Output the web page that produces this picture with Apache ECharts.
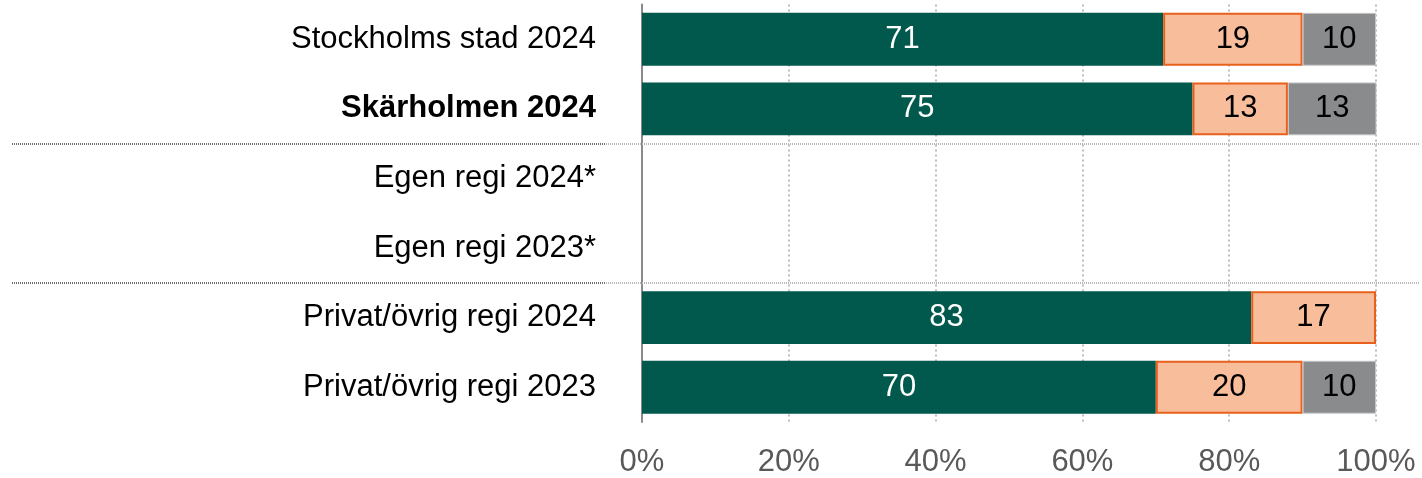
<!DOCTYPE html>
<html>
<head>
<meta charset="utf-8">
<script src="https://cdn.jsdelivr.net/npm/echarts@6/dist/echarts.min.js"></script>
<style>
  html, body { margin: 0; padding: 0; background: #ffffff; }
  #chart { width: 1422px; height: 478px; }
</style>
</head>
<body>
<div id="chart"></div>
<script>
// Row labels, top to bottom
const categories = [
  'Stockholms stad 2024',
  'Skärholmen 2024',
  'Egen regi 2024*',
  'Egen regi 2023*',
  'Privat/övrig regi 2024',
  'Privat/övrig regi 2023'
];
// Shares in percent per row (null = no data)
const greenValues = [71, 75, null, null, 83, 70];
const peachValues = [19, 13, null, null, 17, 20];
const greyValues  = [10, 13, null, null, null, 10];
// Value axis ticks
const tickValues = [0, 20, 40, 60, 80, 100];
// Rows after which a separator line is drawn
const separatorAfter = [1, 3];
const boldRow = 'Skärholmen 2024';

const FONT = '"Liberation Sans", Arial, sans-serif';

const chart = echarts.init(document.getElementById('chart'), null, { renderer: 'canvas' });

function segmentLabel(color) {
  return {
    show: true,
    position: 'inside',
    fontFamily: FONT,
    fontSize: 31,
    color: color,
    formatter: p => (p.value == null ? '' : String(p.value))
  };
}

const option = {
  animation: false,
  backgroundColor: '#ffffff',
  grid: { left: 642, right: 46, top: 4.5, bottom: 53.5, containLabel: false },
  xAxis: {
    type: 'value',
    min: tickValues[0],
    max: tickValues[tickValues.length - 1],
    interval: tickValues[1] - tickValues[0],
    axisLine: { show: false },
    axisTick: { show: false },
    axisLabel: {
      formatter: '{value}%',
      fontFamily: FONT,
      fontSize: 31,
      color: '#595959',
      margin: 25
    },
    splitLine: {
      show: true,
      lineStyle: { color: '#bdbdbd', width: 2, type: [2, 3] }
    }
  },
  yAxis: {
    type: 'category',
    data: categories,
    inverse: true,
    axisLine: { show: true, lineStyle: { color: '#8a8a8a', width: 2 } },
    axisTick: { show: false },
    splitLine: { show: false },
    axisLabel: {
      margin: 46,
      fontFamily: FONT,
      fontSize: 31,
      color: '#000000',
      formatter: v => (v === boldRow ? '{b|' + v + '}' : v),
      rich: {
        b: { fontFamily: FONT, fontSize: 31, fontWeight: 'bold', color: '#000000' }
      }
    }
  },
  series: [
    {
      name: 'green',
      type: 'bar',
      stack: 'total',
      barWidth: '76%',
      data: greenValues,
      itemStyle: { color: '#00594c' },
      label: segmentLabel('#ffffff')
    },
    {
      name: 'peach',
      type: 'bar',
      stack: 'total',
      data: peachValues,
      itemStyle: { color: '#f8be9c', borderColor: '#e8601c', borderWidth: 2 },
      label: segmentLabel('#000000')
    },
    {
      name: 'grey',
      type: 'bar',
      stack: 'total',
      data: greyValues,
      itemStyle: { color: '#898b8d', borderColor: '#c4c6c8', borderWidth: 1 },
      label: segmentLabel('#000000')
    }
  ]
};

chart.setOption(option);

// Dotted group separators between rows
function drawSeparators() {
  const elements = [];
  separatorAfter.forEach(idx => {
    const y0 = chart.convertToPixel({ yAxisIndex: 0 }, idx);
    const y1 = chart.convertToPixel({ yAxisIndex: 0 }, idx + 1);
    const y = Math.round((y0 + y1) / 2);
    elements.push({
      type: 'line',
      z: 10,
      shape: { x1: 12, y1: y, x2: 606, y2: y },
      style: { stroke: '#6e6e6e', lineWidth: 2, lineDash: [1, 1] }
    });
    elements.push({
      type: 'line',
      z: 10,
      shape: { x1: 606, y1: y, x2: 1420, y2: y },
      style: { stroke: '#b8b8b8', lineWidth: 2, lineDash: [1, 1] }
    });
  });
  chart.setOption({ graphic: elements });
}
drawSeparators();
</script>
</body>
</html>
